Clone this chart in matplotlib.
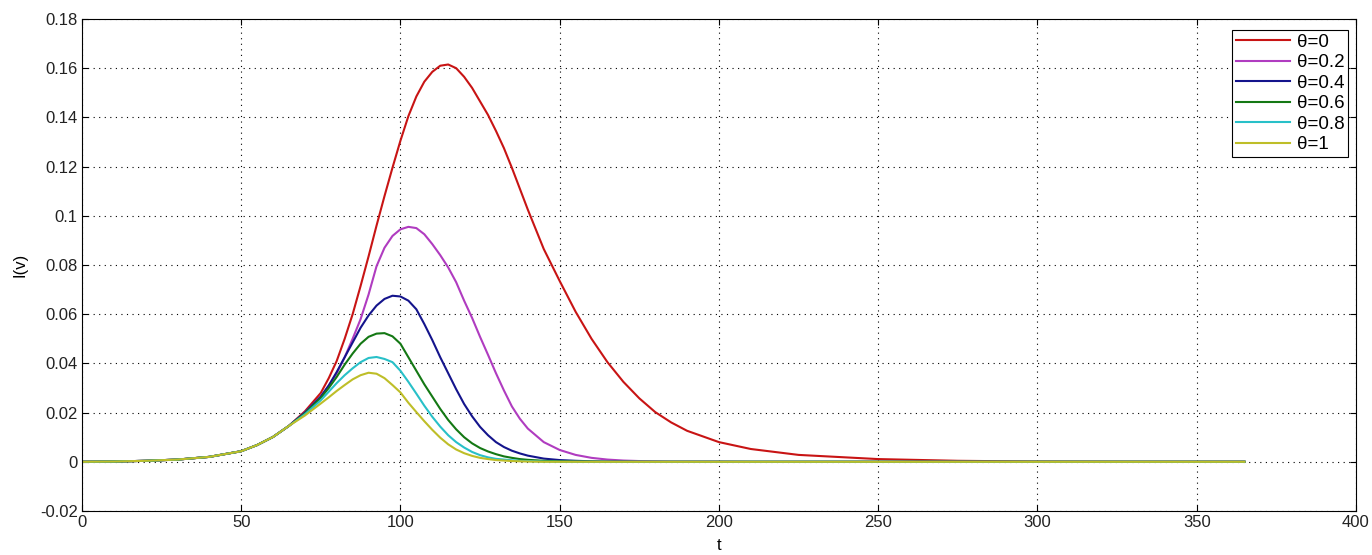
import numpy as np
import matplotlib.pyplot as plt

plt.rcParams['font.family'] = ['Liberation Sans', 'DejaVu Sans']

# time points
t = [0, 10, 20, 30, 40, 50, 55, 60, 65, 70, 75, 77.5, 80, 82.5, 85, 87.5, 90,
     92.5, 95, 97.5, 100, 102.5, 105, 107.5, 110, 112.5, 115, 117.5, 120,
     122.5, 125, 127.5, 130, 132.5, 135, 137.5, 140, 145, 150, 155, 160, 165,
     170, 175, 180, 185, 190, 200, 210, 225, 250, 275, 300, 330, 365]

base = [0, 0.0001, 0.0004, 0.0009, 0.002, 0.0043, 0.0068, 0.0101, 0.0146]

i_00 = base + [0.0205, 0.028, 0.034, 0.041, 0.050, 0.060, 0.0715, 0.0835,
               0.0960, 0.1080, 0.1195, 0.1305, 0.1405, 0.1485, 0.1545, 0.1585,
               0.1610, 0.1615, 0.1600, 0.1565, 0.1520, 0.1465, 0.1410, 0.1345,
               0.1275, 0.1195, 0.1110, 0.1025, 0.0865, 0.0735, 0.0610, 0.0500,
               0.0405, 0.0325, 0.0258, 0.0202, 0.0160, 0.0126, 0.0080, 0.0052,
               0.0028, 0.0011, 0.0004, 0.0001, 0, 0]
i_02 = base + [0.0200, 0.0265, 0.031, 0.036, 0.0425, 0.050, 0.058, 0.068,
               0.0795, 0.0870, 0.0918, 0.0945, 0.0955, 0.0950, 0.0925, 0.0885,
               0.0840, 0.0790, 0.0730, 0.0655, 0.0585, 0.0508, 0.0435, 0.0360,
               0.0290, 0.0225, 0.0175, 0.0135, 0.0080, 0.0048, 0.0028, 0.0016,
               0.0009, 0.0005, 0.0003, 0.0002, 0.0001, 0.0001, 0.0001, 0, 0,
               0, 0, 0, 0, 0]
i_04 = base + [0.0200, 0.0265, 0.031, 0.0365, 0.0425, 0.0485, 0.0545,
               0.0595, 0.0635, 0.0662, 0.0675, 0.0672, 0.0655, 0.0620,
               0.0560, 0.0495, 0.0425, 0.0360, 0.0295, 0.0235, 0.0185,
               0.0142, 0.0108, 0.0080, 0.0060, 0.0045, 0.0034, 0.0025, 0.0013,
               0.0007, 0.0004, 0.0002, 0.0001, 0.0001, 0, 0, 0, 0, 0, 0, 0,
               0, 0, 0, 0, 0]
i_06 = base + [0.0197, 0.026, 0.030, 0.0345, 0.0395, 0.0440, 0.0480, 0.0508,
               0.0521, 0.0523, 0.0510, 0.0480, 0.0425, 0.0370, 0.0315,
               0.0265, 0.0215, 0.0170, 0.0132, 0.0100, 0.0075, 0.0056,
               0.0042, 0.0031, 0.0022, 0.0016, 0.0011, 0.0008, 0.0004, 0.0002,
               0.0001, 0.0001, 0, 0, 0, 0, 0, 0, 0, 0, 0, 0, 0, 0, 0, 0]
i_08 = base + [0.0193, 0.0250, 0.0285, 0.0320, 0.0352, 0.0380, 0.0405,
               0.0422, 0.0426, 0.0418, 0.0405, 0.0370, 0.0325, 0.0277,
               0.0228, 0.0183, 0.0143, 0.0108, 0.0080, 0.0058, 0.0040,
               0.0027, 0.0018, 0.0012, 0.0009, 0.0006, 0.0004, 0.0003, 0.0001,
               0, 0, 0, 0, 0, 0, 0, 0, 0, 0, 0, 0, 0, 0, 0, 0, 0]
i_10 = base + [0.0188, 0.0237, 0.0262, 0.0288, 0.0312, 0.0335, 0.0352,
               0.0362, 0.0358, 0.0340, 0.0312, 0.0282, 0.0240, 0.0202,
               0.0165, 0.0130, 0.0098, 0.0071, 0.0050, 0.0035, 0.0024,
               0.0016, 0.0011, 0.0007, 0.0005, 0.0003, 0.0002, 0.0001, 0,
               0, 0, 0, 0, 0, 0, 0, 0, 0, 0, 0, 0, 0, 0, 0, 0, 0]

labels = ['θ=0', 'θ=0.2', 'θ=0.4', 'θ=0.6', 'θ=0.8', 'θ=1']
colors = ['#c81414', '#b03cc0', '#14148c', '#147814', '#28c0c8', '#bebe28']
series = [i_00, i_02, i_04, i_06, i_08, i_10]

xticks = [0, 50, 100, 150, 200, 250, 300, 350, 400]
yticks = [-0.02, 0, 0.02, 0.04, 0.06, 0.08, 0.1, 0.12, 0.14, 0.16, 0.18]
ytick_labels = ['-0.02', '0', '0.02', '0.04', '0.06', '0.08', '0.1', '0.12',
                '0.14', '0.16', '0.18']

fig = plt.figure(figsize=(13.72, 5.55), dpi=100)
ax = fig.add_axes([0.0597, 0.0793, 0.9286, 0.8865])

for y, c, lab in zip(series, colors, labels):
    ax.plot(t, y, color=c, lw=1.5, label=lab)

ax.set_xlim(0, 400)
ax.set_ylim(-0.02, 0.18)
ax.set_xticks(xticks)
ax.set_yticks(yticks)
ax.set_yticklabels(ytick_labels)
ax.tick_params(direction='in', length=4, top=True, right=True, labelsize=12,
               pad=3, labelcolor='#222222')
ax.grid(True, color='black', linestyle=(0, (1, 4)), lw=0.8)
for s in ax.spines.values():
    s.set_linewidth(0.8)

ax.set_xlabel('t', fontsize=12, labelpad=6)
ax.set_ylabel('I(v)', fontsize=12, labelpad=9)

leg = ax.legend(loc='upper right', bbox_to_anchor=(0.994, 0.978), fontsize=13.5,
                handlelength=2.9, handletextpad=0.37, borderpad=0.2,
                labelspacing=0.18, fancybox=False, framealpha=1,
                edgecolor='black', borderaxespad=0)
leg.get_frame().set_linewidth(0.8)

fig.savefig('out.png', dpi=100)
